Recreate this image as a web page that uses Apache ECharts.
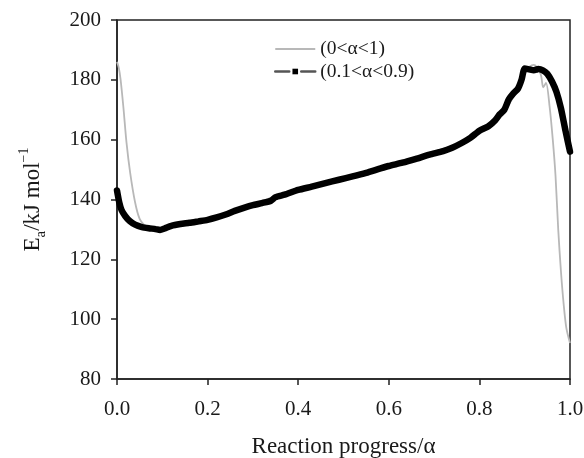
<!DOCTYPE html>
<html>
<head>
<meta charset="utf-8">
<script src="https://cdn.jsdelivr.net/npm/echarts@6/dist/echarts.min.js"></script>
<style>html,body{margin:0;padding:0;background:#fff}#c{width:584px;height:458px}</style>
</head>
<body>
<div id="c"></div>
<script>
// ---- data ----
const seriesNames = ['(0<α<1)', '(0.1<α<0.9)'];
const xTicks = [0, 0.2, 0.4, 0.6, 0.8, 1.0];
const yTicks = [80, 100, 120, 140, 160, 180, 200];

// (0<α<1) – thin grey curve
const alphaGrey = [0.000, 0.004, 0.008, 0.014, 0.021, 0.029, 0.040, 0.050, 0.060, 0.070, 0.085, 0.100,
  0.150, 0.200, 0.300, 0.400, 0.500, 0.600, 0.700, 0.750, 0.800, 0.850, 0.870, 0.890, 0.900, 0.920,
  0.935, 0.941, 0.947, 0.955, 0.962, 0.968, 0.974, 0.980, 0.986, 0.992, 1.000];
const eaGrey = [186, 184, 180, 171, 159, 149, 139, 133.5, 131.5, 130.8, 130.2, 130,
  132.2, 133.3, 138.5, 143.5, 147.5, 151.5, 156, 158.5, 163, 168, 173, 178, 183, 185,
  182, 177.5, 179, 171, 160, 148, 130, 116, 105, 97, 92];

// (0.1<α<0.9) – thick black curve
const alphaBlack = [0.000, 0.005, 0.010, 0.018, 0.028, 0.040, 0.055, 0.070, 0.085, 0.095, 0.105, 0.120,
  0.140, 0.160, 0.180, 0.200, 0.220, 0.240, 0.260, 0.280, 0.300, 0.320, 0.340, 0.350, 0.370, 0.400,
  0.430, 0.460, 0.490, 0.520, 0.550, 0.580, 0.600, 0.630, 0.660, 0.690, 0.720, 0.740, 0.760, 0.780,
  0.800, 0.820, 0.835, 0.845, 0.855, 0.865, 0.875, 0.885, 0.893, 0.900, 0.910, 0.920, 0.930, 0.940,
  0.950, 0.960, 0.970, 0.980, 0.990, 1.000];
const eaBlack = [143, 139, 136.5, 134.5, 132.8, 131.6, 130.8, 130.4, 130.1, 129.8, 130.3, 131.2,
  131.8, 132.2, 132.7, 133.2, 134, 135, 136.2, 137.2, 138.1, 138.8, 139.6, 140.8, 141.6, 143.2,
  144.3, 145.5, 146.6, 147.7, 148.9, 150.3, 151.2, 152.3, 153.6, 155, 156.2, 157.3, 158.8, 160.6,
  163, 164.5, 166.5, 168.5, 170, 173.5, 175.5, 177, 180, 183.8, 183.5, 183.2, 183.6, 183.2,
  182, 179.5, 176, 170.5, 163, 156];

const toPairs = (xs, ys) => xs.map((x, i) => [x, ys[i]]);

const FONT = '"Liberation Serif", "Times New Roman", serif';
const TXT = '#1a1a1a';

const chart = echarts.init(document.getElementById('c'), null, {renderer: 'canvas'});
chart.setOption({
  animation: false,
  backgroundColor: '#fff',
  grid: {left: 117, right: 14, top: 20, bottom: 79, containLabel: false, outerBoundsMode: 'none',
    show: true, borderColor: '#222', borderWidth: 1.5, backgroundColor: 'transparent'},
  legend: {
    orient: 'vertical', left: 274, top: 38, padding: 0, itemWidth: 40, itemHeight: 7, itemGap: 0.5,
    textStyle: {fontFamily: FONT, fontSize: 19.5, color: TXT, lineHeight: 22},
    data: [
      {name: seriesNames[0], itemStyle: {color: 'rgba(0,0,0,0)', borderWidth: 0}, lineStyle: {color: '#b8b8b8', width: 2, type: 'solid'}},
      {name: seriesNames[1], itemStyle: {color: '#000', borderWidth: 0}, lineStyle: {color: '#555', width: 2.5, type: [14, 12]}}
    ]
  },
  xAxis: {
    type: 'value', min: 0, max: 1, interval: 0.2,
    name: 'Reaction progress/α', nameLocation: 'middle', nameGap: 56,
    nameTextStyle: {fontFamily: FONT, fontSize: 23, color: TXT},
    axisLine: {show: true, onZero: false, lineStyle: {color: '#222', width: 1.5}},
    axisTick: {show: true, inside: false, length: 6, lineStyle: {color: '#222', width: 1.5}},
    axisLabel: {fontFamily: FONT, fontSize: 21, color: TXT, margin: 20, formatter: v => v.toFixed(1)},
    splitLine: {show: false}
  },
  yAxis: {
    type: 'value', min: 80, max: 200, interval: 20,
    name: '{m|E}{sub|a}{m|/kJ mol}{sup|−1}', nameLocation: 'middle', nameGap: 68, nameRotate: 90,
    nameTextStyle: {
      fontFamily: FONT, fontSize: 23, color: TXT,
      rich: {
        m: {fontFamily: FONT, fontSize: 23, color: TXT, lineHeight: 32},
        sub: {fontFamily: FONT, fontSize: 15, color: TXT, lineHeight: 32, verticalAlign: 'bottom'},
        sup: {fontFamily: FONT, fontSize: 14, color: TXT, lineHeight: 32, verticalAlign: 'top'}
      }
    },
    axisLine: {show: true, onZero: false, lineStyle: {color: '#222', width: 1.5}},
    axisTick: {show: true, inside: false, length: 6, lineStyle: {color: '#222', width: 1.5}},
    axisLabel: {fontFamily: FONT, fontSize: 21, color: TXT, margin: 16},
    splitLine: {show: false}
  },
  series: [
    {
      name: seriesNames[0], type: 'line', data: toPairs(alphaGrey, eaGrey), z: 2,
      showSymbol: false, symbol: 'none', smooth: 0.3,
      lineStyle: {color: '#b8b8b8', width: 1.8}, itemStyle: {color: '#b8b8b8'}
    },
    {
      name: seriesNames[1], type: 'line', data: toPairs(alphaBlack, eaBlack), z: 3,
      showSymbol: false, symbol: 'rect', smooth: 0.2,
      lineStyle: {color: '#000', width: 6.5, join: 'round', cap: 'round'}, itemStyle: {color: '#000'}
    }
  ]
});
</script>
</body>
</html>
